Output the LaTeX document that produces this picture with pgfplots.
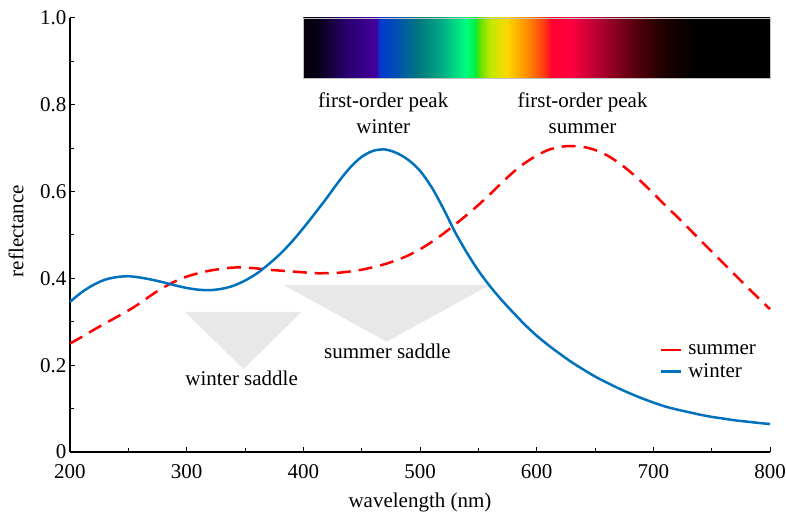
\documentclass[border=0pt]{standalone}
\usepackage{fontspec}
\setmainfont{Liberation Serif}
\usepackage{pgfplots}
\pgfplotsset{compat=1.18}

\definecolor{mblue}{RGB}{0,114,189}
\definecolor{saddle}{RGB}{232,232,232}

\pgfdeclarehorizontalshading{spectrum}{100bp}{
rgb(0bp)=(0.02,0,0.05);
rgb(25bp)=(0.02,0,0.05);
rgb(26.5bp)=(0.03,0,0.09);
rgb(29.7bp)=(0.165,0,0.44);
rgb(32.9bp)=(0.27,0,0.63);
rgb(33.1bp)=(0,0.22,0.82);
rgb(35bp)=(0,0.31,0.69);
rgb(37.5bp)=(0,0.48,0.48);
rgb(39.7bp)=(0,0.66,0.53);
rgb(42.5bp)=(0,1,0.5);
rgb(43.4bp)=(0,0.94,0.25);
rgb(43.9bp)=(0.38,0.88,0);
rgb(45bp)=(0.75,0.91,0);
rgb(46.8bp)=(1,0.85,0);
rgb(48.9bp)=(1,0.56,0);
rgb(50.7bp)=(1,0.25,0.06);
rgb(51.6bp)=(1,0,0.19);
rgb(53.6bp)=(1,0,0.25);
rgb(56.8bp)=(0.69,0,0.19);
rgb(60bp)=(0.38,0,0.06);
rgb(63.5bp)=(0.125,0,0);
rgb(67.1bp)=(0,0,0);
rgb(100bp)=(0,0,0)}

\pgfplotstableread{
x y
200 0.250
210 0.265
220 0.281
230 0.296
240 0.311
250 0.326
260 0.343
270 0.362
280 0.379
290 0.393
300 0.404
310 0.412
320 0.418
330 0.422
340 0.425
350 0.425
360 0.423
370 0.420
380 0.418
390 0.416
400 0.414
410 0.412
420 0.412
430 0.413
440 0.416
450 0.420
460 0.426
470 0.433
480 0.442
490 0.453
500 0.467
510 0.484
520 0.503
530 0.524
540 0.546
550 0.569
560 0.594
570 0.620
580 0.645
590 0.666
600 0.683
610 0.696
620 0.703
630 0.705
640 0.703
650 0.696
660 0.684
670 0.667
680 0.646
690 0.622
700 0.596
710 0.569
720 0.543
730 0.516
740 0.489
750 0.462
760 0.435
770 0.408
780 0.381
790 0.355
800 0.329
}\summer

\pgfplotstableread{
x y
200 0.346
210 0.368
220 0.385
230 0.397
240 0.403
250 0.405
260 0.402
270 0.397
280 0.391
290 0.384
300 0.378
310 0.374
320 0.373
330 0.376
340 0.383
350 0.395
360 0.411
370 0.432
380 0.456
390 0.484
400 0.516
410 0.550
420 0.585
430 0.622
440 0.655
450 0.680
460 0.694
470 0.697
480 0.689
490 0.673
500 0.648
510 0.610
520 0.561
530 0.507
540 0.460
550 0.418
560 0.382
570 0.350
580 0.321
590 0.293
600 0.268
610 0.246
620 0.226
630 0.207
640 0.190
650 0.174
660 0.160
670 0.147
680 0.135
690 0.124
700 0.114
710 0.105
720 0.098
730 0.092
740 0.086
750 0.081
760 0.077
770 0.073
780 0.070
790 0.067
800 0.0645
}\winter

\begin{document}
\begin{tikzpicture}[font=\fontsize{21bp}{26bp}\selectfont]
\begin{axis}[
  scale only axis, width=700bp, height=434bp,
  xmin=200, xmax=800, ymin=0, ymax=1,
  axis x line*=bottom, axis y line*=left,
  axis line style={line width=1.2bp, black},
  xtick={200,300,400,500,600,700,800},
  xticklabels={200,300,400,500,600,700,800},
  minor xtick={250,350,450,550,650,750},
  ytick={0,0.2,0.4,0.6,0.8,1},
  yticklabels={0,0.2,0.4,0.6,0.8,1.0},
  minor ytick={0.1,0.3,0.5,0.7,0.9},
  tick align=inside, major tick length=5bp, minor tick length=4bp,
  every tick/.style={black, line width=1bp},
  /pgf/number format/assume math mode=true,
  xticklabel style={yshift=-9bp},
  xlabel={wavelength (nm)}, ylabel={reflectance},
  xlabel style={at={(axis description cs:0.5,-0.117)}, anchor=center},
  ylabel style={at={(axis description cs:-0.077,0.509)}, anchor=center},
  clip=false,
  legend style={at={(axis description cs:0.838,0.258)}, anchor=north west, draw=none, fill=none,
    row sep=4bp, column sep=4bp, font=\fontsize{21bp}{24bp}\selectfont},
  legend cell align=left,
  legend image code/.code={\draw[#1,solid] (0bp,0bp) -- (20bp,0bp);},
]
% spectrum bar
\fill[shading=spectrum] (axis cs:400,0.86) rectangle (axis cs:800,1.0);
\draw[gray!50, line width=0.6bp] (axis cs:400,0.86) rectangle (axis cs:800,1.0);
% saddle triangles
\fill[saddle] (axis cs:298.6,0.323) -- (axis cs:398.6,0.323) -- (axis cs:348.6,0.191) -- cycle;
\fill[saddle] (axis cs:382.9,0.385) -- (axis cs:560,0.385) -- (axis cs:471.4,0.254) -- cycle;

\addplot[red, line width=2.5bp, dash pattern=on 14bp off 8bp, smooth] table[x=x,y=y] {\summer};
\addlegendentry{summer}
\addplot[mblue, line width=2.5bp, smooth] table[x=x,y=y] {\winter};
\addlegendentry{winter}

\node[align=center] at (axis cs:468.5,0.781) {first-order peak\\winter};
\node[align=center] at (axis cs:639.3,0.781) {first-order peak\\summer};
\node at (axis cs:347.1,0.17) {winter saddle};
\node at (axis cs:472.1,0.233) {summer saddle};
\end{axis}
\pgfresetboundingbox
\path ([xshift=-70bp,yshift=-63bp]current axis.south west) rectangle ([xshift=16bp,yshift=18bp]current axis.north east);
\end{tikzpicture}
\end{document}
